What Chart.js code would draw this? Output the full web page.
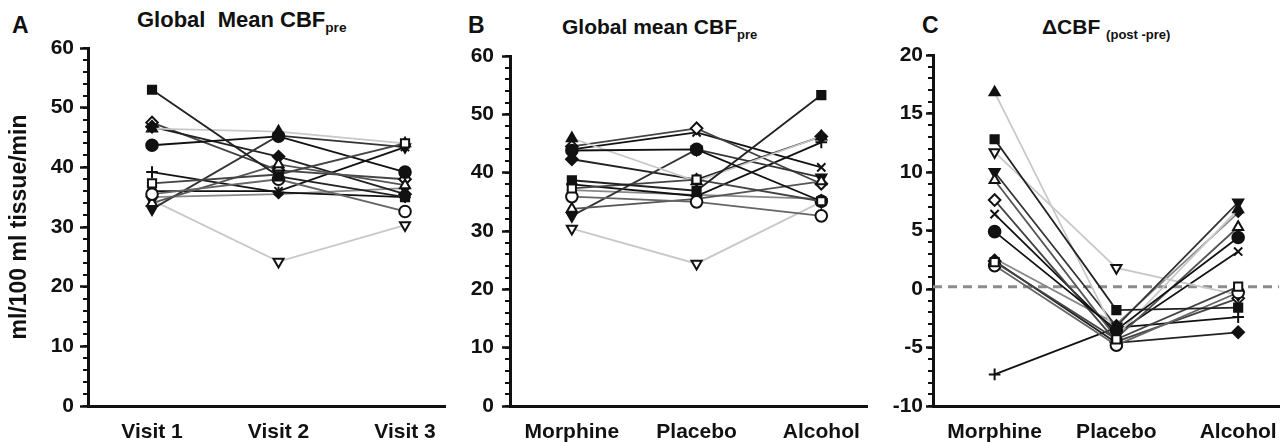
<!DOCTYPE html>
<html>
<head>
<meta charset="utf-8">
<script src="https://cdn.jsdelivr.net/npm/chart.js@4.4.1/dist/chart.umd.min.js"></script>
<style>
  body { margin: 0; background: #fff; width: 1287px; height: 442px; overflow: hidden; position: relative; font-family: "Liberation Sans", Arial, sans-serif; }
  canvas { position: absolute; top: 0; }
  .lbl { position: absolute; font-weight: bold; color: #111; white-space: nowrap; line-height: 1; }
  .lbl sub { font-size: 62%; vertical-align: -0.35em; }
</style>
</head>
<body>
<div class="lbl" style="left:12px;top:14px;font-size:23px">A</div>
<div class="lbl" style="left:137px;top:9px;font-size:22px">Global&nbsp; Mean CBF<sub>pre</sub></div>
<div class="lbl" style="left:468px;top:14px;font-size:23px">B</div>
<div class="lbl" style="left:562px;top:16px;font-size:21px">Global mean CBF<sub>pre</sub></div>
<div class="lbl" style="left:922px;top:14px;font-size:23px">C</div>
<div class="lbl" style="left:1042px;top:16px;font-size:21px">&Delta;CBF <sub>(post -pre)</sub></div>

<canvas id="chartA" style="left:0px" width="455" height="442"></canvas>
<canvas id="chartB" style="left:455px" width="420" height="442"></canvas>
<canvas id="chartC" style="left:875px" width="412" height="442"></canvas>

<script>
// categories
const visits = ["Visit 1", "Visit 2", "Visit 3"];
const treatments = ["Morphine", "Placebo", "Alcohol"];

// one row per subject (same subject order in every panel)
const visitValues = [
  [53.0, 38.5, 35.0],
  [37.3, 38.8, 44.0],
  [43.7, 45.2, 39.2],
  [35.5, 38.0, 32.6],
  [46.5, 46.0, 44.0],
  [34.0, 40.5, 37.0],
  [33.0, 45.3, 43.4],
  [34.5, 24.2, 30.3],
  [46.8, 41.8, 35.5],
  [47.5, 39.5, 38.0],
  [36.0, 36.0, 43.4],
  [39.2, 35.8, 35.0],
  [35.0, 35.5, 36.5]
];
const treatmentValues = [
  [38.7, 36.9, 53.3],
  [37.3, 38.8, 35.1],
  [43.8, 44.0, 35.1],
  [35.9, 35.0, 32.6],
  [45.9, 38.5, 46.2],
  [33.8, 35.5, 38.5],
  [32.6, 44.0, 39.2],
  [30.4, 24.4, 35.0],
  [42.3, 38.8, 46.2],
  [44.5, 47.6, 38.1],
  [44.0, 46.9, 40.9],
  [38.0, 36.0, 45.2],
  [37.0, 36.2, 35.5]
];
const deltaValues = [
  [12.8, -1.8, -1.6],
  [2.3, -4.3, 0.2],
  [4.9, -3.5, 4.4],
  [2.0, -4.8, -0.3],
  [16.8, -4.0, 6.8],
  [9.3, -4.2, 5.3],
  [10.0, -3.2, 7.4],
  [11.7, 1.8, -0.5],
  [2.4, -4.6, -3.7],
  [7.6, -4.5, -0.8],
  [6.4, -3.8, 3.2],
  [-7.3, -3.3, -2.4],
  [2.6, -3.0, 6.5]
];
const zeroLine = [0.2, 0.2];

// marker / line style for each subject
const styles = [
  { shape: 'rect', fill: '#111', line: '#222' },
  { shape: 'rect', fill: '#fff', line: '#444' },
  { shape: 'circle', fill: '#111', line: '#111' },
  { shape: 'circle', fill: '#fff', line: '#666' },
  { shape: 'triangle', fill: '#111', line: '#c8c8c8' },
  { shape: 'triangle', fill: '#fff', line: '#555' },
  { shape: 'triangle', fill: '#111', line: '#333', rot: 180 },
  { shape: 'triangle', fill: '#fff', line: '#c8c8c8', rot: 180 },
  { shape: 'rectRot', fill: '#111', line: '#222' },
  { shape: 'rectRot', fill: '#fff', line: '#444' },
  { shape: 'crossRot', fill: '#111', line: '#111' },
  { shape: 'cross', fill: '#111', line: '#111' },
  { shape: 'rectRot', fill: '#111', line: '#888', small: true }
];

const FONT = '"Liberation Sans", Arial, sans-serif';

const minorTicks = {
  id: 'minorTicks',
  afterDraw(chart, args, opts) {
    const y = chart.scales.y;
    const ctx = chart.ctx;
    ctx.save();
    ctx.strokeStyle = '#111';
    ctx.lineWidth = 2;
    for (let v = y.min; v <= y.max + 1e-9; v += opts.step) {
      const py = Math.round(y.getPixelForValue(v));
      ctx.beginPath();
      ctx.moveTo(y.right - 5, py);
      ctx.lineTo(y.right, py);
      ctx.stroke();
    }
    ctx.restore();
  }
};

function subjectSets(values) {
  return values.map((row, i) => {
    const s = styles[i];
    return {
      data: row.map((v, j) => ({ x: j, y: v })),
      borderColor: s.line,
      borderWidth: 1.8,
      pointStyle: s.shape,
      pointRotation: s.rot || 0,
      pointRadius: s.small ? 4 : 5.8,
      pointBackgroundColor: s.fill,
      pointBorderColor: '#111',
      pointBorderWidth: 2,
      tension: 0,
      clip: false
    };
  });
}

function makeChart(id, o) {
  const datasets = subjectSets(o.values);
  if (o.refLine) {
    datasets.push({
      data: [{ x: o.xmin, y: o.refLine[0] }, { x: o.xmax, y: o.refLine[1] }],
      borderColor: '#8c8c8c',
      borderWidth: 3,
      borderDash: [9, 6],
      pointRadius: 0
    });
  }
  return new Chart(document.getElementById(id), {
    type: 'line',
    data: { datasets: datasets },
    plugins: [minorTicks],
    options: {
      responsive: false,
      animation: false,
      events: [],
      layout: { padding: { top: o.top, right: o.right, left: 0, bottom: 0 } },
      plugins: {
        legend: { display: false },
        tooltip: { enabled: false },
        minorTicks: { step: o.minor }
      },
      scales: {
        x: {
          type: 'linear',
          min: o.xmin,
          max: o.xmax,
          afterBuildTicks: (s) => { s.ticks = o.cats.map((c, i) => ({ value: i })); },
          afterFit: (s) => { s.height = 36; },
          grid: { display: false },
          border: { display: true, width: 3, color: '#111' },
          ticks: {
            padding: 6,
            color: '#111',
            font: { family: FONT, size: 21, weight: 'bold' },
            callback: (v) => o.cats[v]
          }
        },
        y: {
          min: o.ymin,
          max: o.ymax,
          afterFit: (s) => { s.width = o.yWidth; },
          grid: { drawOnChartArea: false, drawTicks: true, tickLength: o.tickLen, tickWidth: 2.5, tickColor: '#111' },
          border: { display: true, width: 3, color: '#111' },
          ticks: {
            stepSize: o.step,
            padding: o.tickPad,
            color: '#111',
            font: { family: FONT, size: 21, weight: 'bold' }
          },
          title: {
            display: !!o.yTitle,
            text: o.yTitle || '',
            color: '#111',
            padding: { top: 6, bottom: 0 },
            font: { family: FONT, size: 23, weight: 'bold' }
          }
        }
      }
    }
  });
}

makeChart('chartA', {
  values: visitValues, cats: visits,
  xmin: -0.506, xmax: 2.316, ymin: 0, ymax: 60, step: 10, minor: 2,
  top: 48, right: 10, yWidth: 88, tickLen: 8, tickPad: 6,
  yTitle: 'ml/100 ml tissue/min'
});
makeChart('chartB', {
  values: treatmentValues, cats: treatments,
  xmin: -0.496, xmax: 2.368, ymin: 0, ymax: 60, step: 10, minor: 2,
  top: 56, right: 7, yWidth: 55, tickLen: 8, tickPad: 8
});
makeChart('chartC', {
  values: deltaValues, cats: treatments, refLine: zeroLine,
  xmin: -0.506, xmax: 2.337, ymin: -10, ymax: 20, step: 5, minor: 1,
  top: 55, right: 0, yWidth: 58, tickLen: 7, tickPad: 3
});
</script>
</body>
</html>
